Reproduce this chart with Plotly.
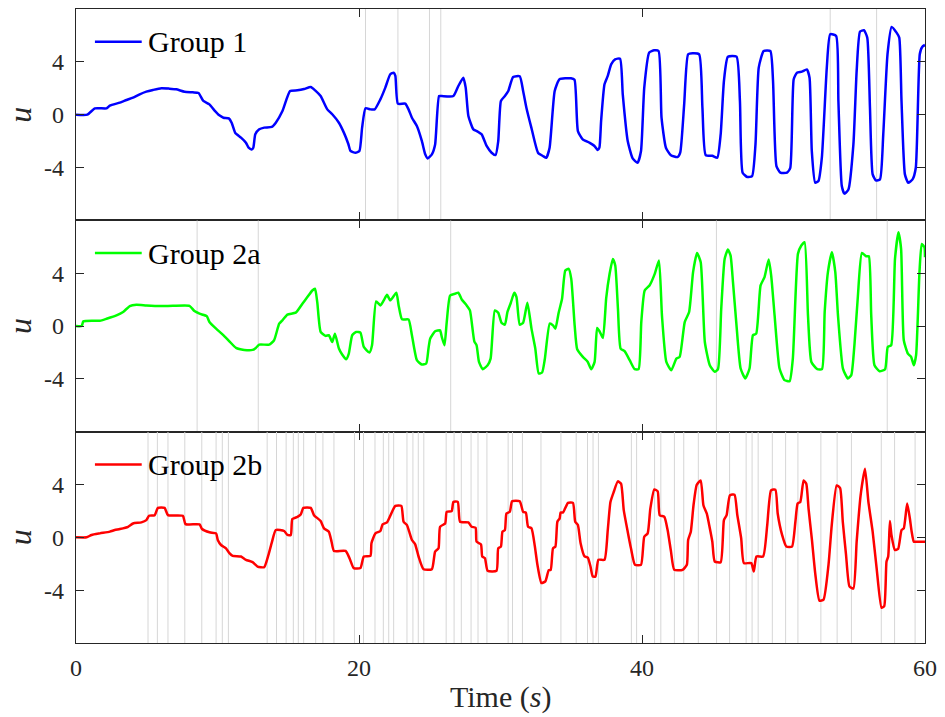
import plotly.graph_objects as go
from plotly.subplots import make_subplots

# ---- Group 1 response ----
t1 = [0, 0.8, 1.34, 2.16, 2.39, 3.1, 3.57, 4.03, 4.5, 4.97, 5.44, 6.03, 6.6, 7.08, 7.67, 8.26, 8.66,
      9.0, 9.43, 9.78, 10.13, 10.42, 10.8, 11.0, 11.26, 11.66, 12.01, 12.2, 12.41, 12.53, 12.67, 12.95,
      13.3, 13.84, 14.12, 14.59, 15.13, 15.65, 16.12, 16.59, 16.9, 17.29, 17.76, 18.11, 18.58, 18.93,
      19.24, 19.4, 19.75, 20.03, 20.22, 20.46, 20.81, 21.11, 21.51, 21.86, 22.21, 22.45, 22.57, 22.75,
      23.27, 23.5, 23.74, 24.09, 24.44, 24.68, 24.86, 25.15, 25.38, 25.66, 25.85, 26.67, 27.02, 27.37,
      27.54, 27.73, 28.08, 28.32, 28.67, 29.02, 29.37, 29.65, 29.84, 30.03, 30.31, 30.55, 30.89, 31.36,
      31.6, 31.83, 32.18, 32.65, 33.0, 33.24, 33.47, 33.83, 34.17, 34.98, 35.23, 35.47, 35.81, 36.28,
      36.64, 36.87, 36.99, 37.11, 37.35, 37.58, 37.82, 38.1, 38.45, 38.64, 38.99, 39.34, 39.69, 39.93,
      40.16, 40.51, 40.86, 41.17, 41.38, 41.69, 42.04, 42.51, 42.7, 42.98, 43.26, 43.57, 44.04, 44.27,
      44.5, 44.97, 45.32, 45.56, 45.79, 46.07, 46.68, 46.92, 47.11, 47.44, 47.78, 48.02, 48.25, 48.6,
      49.07, 49.26, 49.5, 49.78, 50.25, 50.48, 50.72, 50.95, 51.3, 51.65, 51.84, 52.0, 52.24, 52.47,
      52.71, 53.06, 53.3, 53.72, 53.88, 54.12, 54.31, 54.59, 54.94, 55.17, 55.41, 55.69, 55.92, 56.11,
      56.3, 56.53, 56.82, 57.05, 57.35, 57.64, 57.99, 58.18, 58.34, 58.58, 58.81, 59.12, 59.35, 59.63,
      59.8, 60.0]
u1 = [0, 0, 0.48, 0.48, 0.68, 0.91, 1.11, 1.29, 1.54, 1.74, 1.87, 2.0, 1.97, 1.92, 1.74, 1.69, 1.64,
      1.04, 0.78, 0.33, -0.05, -0.23, -0.28, -0.61, -1.39, -1.74, -2.12, -2.5, -2.63, -2.5, -1.49, -1.11,
      -0.98, -0.93, -0.61, 0.28, 1.79, 1.84, 1.94, 2.1, 1.84, 1.41, 0.4, 0.03, -0.61, -1.36,
      -2.2, -2.75, -2.88, -2.75, -0.98, 0.48, 0.4, 0.4, 1.16, 2.05, 3.06, 3.18, 2.93, 0.83,
      0.83, 0.4, -0.23, -0.86, -1.99, -3.0, -3.31, -3.0, -2.25, 1.41, 1.41, 1.41, 2.17, 2.8,
      2.05, -0.1, -1.11, -1.24, -1.49, -2.37, -2.88, -3.06, -2.0, 1.04, 1.41, 1.79, 2.85, 2.9,
      1.79, 0.53, -0.98, -2.88, -3.13, -3.26, -2.5, 1.79, 2.68, 2.75, 2.65, -1.24, -1.87, -2.12,
      -2.37, -2.68, -2.5, -0.48, 2.3, 2.93, 3.81, 4.19, 4.24, 1.54, -1.99, -3.31, -3.64, -2.75,
      2.05, 4.7, 4.87, 4.82, -0.23, -2.5, -3.08, -3.21, -2.88, 0.78, 4.57, 4.65, 4.57, 0.53,
      -3.06, -3.11, -3.26, -1.49, 2.55, 4.39, 4.39, 1.04, -4.39, -4.72, -4.65, -2.25, 3.56, 4.82,
      4.82, 2.55, -3.89, -4.39, -4.39, -4.02, 2.68, 3.18, 3.26, 3.43, 2.8, -2.75, -5.15, -5.03,
      -3.26, 3.56, 6.09, 5.96, 1.04, -5.4, -5.98, -5.66, -2.25, 3.31, 6.29, 6.39, 5.83, 0.53,
      -4.52, -4.97, -4.9, -1.49, 4.57, 6.64, 6.21, 5.83, 1.04, -4.52, -5.15, -4.9, -4.02, 4.57,
      5.13, 5.28]

# ---- Group 2a response ----
t2 = [0, 0.4, 0.52, 1.22, 1.69, 2.16, 2.86, 3.33, 3.8, 4.27, 4.97, 5.91, 6.85, 8.02, 8.37, 8.73, 9.24,
      9.43, 9.9, 10.37, 10.84, 11.31, 11.89, 12.48, 12.71, 12.95, 13.65, 14.0, 14.36, 14.59, 14.94,
      15.53, 16.0, 16.35, 16.7, 16.89, 17.05, 17.29, 17.64, 17.87, 18.11, 18.3, 18.58, 18.81, 19.09,
      19.28, 19.52, 19.8, 20.1, 20.34, 20.74, 20.92, 21.21, 21.51, 21.75, 21.98, 22.21, 22.64, 22.8,
      23.04, 23.5, 23.74, 24.09, 24.44, 24.75, 24.91, 25.03, 25.38, 25.73, 25.85, 26.04, 26.2, 26.44,
      26.79, 27.02, 27.26, 27.61, 27.84, 28.15, 28.31, 28.48, 28.74, 29.09, 29.3, 29.6, 29.84, 30.07,
      30.31, 30.49, 30.73, 30.97, 31.13, 31.36, 31.6, 31.9, 32.19, 32.46, 32.7, 32.94, 33.13, 33.48,
      33.71, 33.88, 34.11, 34.35, 34.58, 34.82, 35.0, 35.24, 35.42, 35.82, 36.17, 36.41, 36.65, 36.83,
      37.0, 37.24, 37.47, 37.71, 37.94, 38.11, 38.3, 38.49, 38.77, 39.13, 39.48, 39.76, 39.95, 40.19,
      40.53, 40.9, 41.2, 41.41, 41.72, 42.07, 42.43, 42.66, 43.02, 43.33, 43.61, 43.89, 44.15, 44.44,
      44.79, 45.14, 45.37, 45.6, 45.84, 46.07, 46.26, 46.43, 46.66, 46.97, 47.3, 47.6, 47.84, 48.07,
      48.38, 48.66, 48.95, 49.13, 49.37, 49.72, 50.07, 50.43, 50.66, 51.02, 51.26, 51.49, 51.73, 51.97,
      52.39, 52.72, 52.91, 53.14, 53.42, 53.66, 53.85, 54.2, 54.55, 54.79, 55.02, 55.26, 55.54, 55.84,
      56.03, 56.2, 56.43, 56.79, 57.18, 57.37, 57.61, 57.88, 58.12, 58.31, 58.5, 58.79, 59.02, 59.21,
      59.37, 59.61, 59.77, 59.96, 60.0]
u2 = [0, 0, 0.35, 0.4, 0.4, 0.55, 0.8, 1.06, 1.51, 1.61, 1.56, 1.51, 1.53, 1.53, 1.13, 0.93, 0.75,
      0.3, -0.2, -0.65, -1.16, -1.66, -1.81, -1.81, -1.66, -1.41, -1.41, -1.08, 0.18, 0.43, 0.86,
      1.01, 1.69, 2.19, 2.69, 2.82, 1.81, -0.45, -0.75, -0.7, -1.21, -0.58, -1.71, -2.16, -2.52,
      -2.09, -0.7, -0.45, -0.5, -1.58, -2.01, -1.46, 1.86, 1.56, 1.94, 2.36, 1.94, 2.52, 1.56,
      0.5, 0.5, -0.7, -2.59, -2.92, -2.84, -1.71, -0.96, -0.4, -0.33, -0.83, -1.46, 0.3, 2.31,
      2.44, 2.52, 2.01, 1.56, 1.18, -1.16, -1.46, -2.72, -3.27, -2.97, -2.47, 1.18, 1.01, 0.25,
      0.1, 1.06, 1.76, 2.52, 2.19, 0.1, 0.25, 1.76, -0.2, -1.71, -3.6, -3.52, -2.52, 0.18,
      0.05, -0.2, 1.01, 2.06, 4.2, 4.33, 3.57, 0.05, -1.76, -2.34, -2.72, -3.27, -2.72, -0.15,
      -0.4, -0.91, 2.11, 3.95, 5.08, 4.58, 1.31, -1.71, -1.91, -2.59, -3.27, -3.27, 0.3, 2.69,
      3.07, 3.95, 4.96, 0.8, -2.72, -3.35, -2.47, -2.34, 0.3, 1.06, 4.08, 5.53, 4.83, -1.21,
      -2.97, -3.47, -3.27, 1.31, 5.08, 5.79, 5.33, 3.32, 0.3, -3.22, -3.97, -3.22, -0.7, -0.58,
      3.07, 3.7, 5.03, 3.82, 0.8, -3.22, -4.1, -4.18, -2.47, 5.46, 6.09, 6.34, 0.8, -2.72,
      -3.27, -3.27, 1.06, 4.08, 5.59, 4.08, 0.8, -3.22, -3.97, -3.72, -1.33, 2.31, 5.53, 5.28,
      5.28, 0.8, -2.97, -3.42, -3.27, -1.58, -1.46, 5.08, 7.09, 5.84, -1.08, -2.09, -2.34, -2.97,
      -2.21, 4.08, 6.21, 5.96, 5.2]

# ---- Group 2b response ----
t3 = [0, 0.75, 1.1, 1.69, 2.39, 2.74, 3.1, 3.68, 4.03, 4.62, 4.97, 5.16, 5.56, 5.79, 6.26, 6.5, 7.55,
      7.74, 8.73, 8.91, 9.43, 9.9, 10.02, 10.25, 10.6, 10.84, 11.07, 11.66, 12.01, 12.48, 12.83, 13.3,
      13.6, 13.84, 14.12, 14.71, 14.94, 15.18, 15.29, 15.65, 15.88, 16.07, 16.59, 16.82, 17.29, 17.53,
      17.87, 18.06, 18.23, 19.05, 19.33, 19.63, 20.1, 20.34, 20.81, 20.88, 21.16, 21.51, 21.67, 21.98,
      22.28, 22.57, 22.99, 23.15, 23.39, 23.55, 23.74, 23.97, 24.21, 24.56, 25.15, 25.38, 25.62, 25.73,
      26.09, 26.2, 26.55, 26.67, 26.98, 27.14, 27.73, 27.96, 28.24, 28.31, 28.62, 28.71, 28.9, 29.09,
      29.72, 29.84, 30.03, 30.14, 30.31, 30.42, 30.66, 30.82, 31.36, 31.6, 31.79, 31.95, 32.19, 32.42,
      32.61, 32.89, 33.17, 33.41, 33.55, 33.71, 33.88, 34.02, 34.18, 34.25, 34.42, 34.77, 35.12, 35.28,
      35.47, 35.66, 35.94, 36.17, 36.36, 36.52, 36.71, 36.92, 37.35, 37.58, 37.77, 38.0, 38.29, 38.52,
      38.71, 38.99, 39.22, 39.5, 39.93, 40.16, 40.4, 40.59, 40.87, 41.11, 41.25, 41.58, 41.81, 42.05,
      42.28, 42.87, 43.17, 43.26, 43.45, 43.64, 43.87, 44.15, 44.34, 44.58, 44.74, 44.97, 45.14, 45.56,
      45.79, 45.98, 46.21, 46.54, 46.73, 47.01, 47.2, 47.72, 47.9, 48.09, 48.56, 48.85, 49.12, 49.43,
      49.59, 49.9, 50.2, 50.6, 50.84, 51.0, 51.19, 51.42, 51.61, 51.77, 52.01, 52.24, 52.54, 52.83,
      53.18, 53.41, 53.76, 54.0, 54.19, 54.42, 54.66, 54.94, 55.17, 55.45, 55.76, 56.0, 56.3, 56.58,
      56.93, 57.12, 57.28, 57.4, 57.52, 57.63, 57.87, 58.1, 58.34, 58.5, 58.74, 58.93, 59.05, 59.21,
      59.4, 60.0]
u3 = [0, 0, 0.18, 0.3, 0.43, 0.55, 0.63, 0.8, 1.05, 1.13, 1.3, 1.63, 1.68, 2.23, 2.23, 1.68, 1.63,
      1.0, 0.98, 0.63, 0.38, 0.3, -0.2, -0.58, -0.83, -1.2, -1.4, -1.45, -1.7, -1.88, -2.21, -2.26,
      -1.33, -0.38, 0.55, 0.48, 0.18, 0.18, 1.38, 1.55, 1.73, 2.23, 2.23, 1.68, 1.23, 0.68,
      0.43, -0.33, -1.03, -1.03, -1.58, -2.33, -2.33, -1.45, -1.4, -0.45, 0.3, 0.48, 0.98, 1.13,
      1.8, 2.38, 2.38, 1.18, 0.93, 0.43, -0.2, -0.53, -1.45, -2.41, -2.41, -1.08, -0.83, 0.8,
      1.05, 1.93, 1.98, 2.68, 2.68, 1.18, 1.13, 0.8, 0.73, -0.33, -0.53, -1.45, -1.58, -2.53,
      -2.53, -0.83, -0.7, 0.43, 0.55, 1.8, 1.93, 2.73, 2.73, 1.93, 1.88, 0.8, 0.68, -0.63,
      -2.08, -3.46, -3.33, -2.48, -2.46, -0.83, -0.7, 1.18, 1.43, 1.88, 1.88, 2.61, 2.61, 1.18,
      0.93, -0.45, -1.45, -1.53, -2.21, -2.96, -2.96, -1.7, -1.7, 0.55, 2.68, 3.43, 4.24, 4.06,
      2.06, 0.43, -0.83, -2.08, -2.08, 0.05, 0.3, 2.18, 3.63, 3.48, 1.68, 1.55, 0.55, -1.08,
      -2.46, -2.46, -2.08, -0.2, 0.43, 2.43, 3.98, 4.31, 2.43, 1.8, 0.98, -0.33, -1.83, -1.88,
      1.3, 1.68, 3.18, 3.23, 1.73, -0.08, -1.95, -1.95, -2.58, -1.45, -1.45, 0.93, 3.56, 3.61,
      1.8, 0.18, -0.7, -0.7, 1.18, 2.56, 2.68, 4.31, 4.06, 2.18, -0.2, -2.71, -4.79, -4.71,
      -2.08, 0.93, 3.93, 3.73, 1.18, -1.33, -3.71, -3.88, -0.33, 3.18, 5.19, 2.68, 0.43, -2.33,
      -5.34, -5.21, -1.83, -1.45, 1.23, 0.18, -0.95, -0.88, 0.55, 0.68, 2.56, 1.43, 0.48, -0.33,
      -0.33, -0.33]

# ---- Event (update) times for each group ----
ev1 = [20.46, 22.75, 24.98, 25.78, 53.3, 56.58]
ev2a = [8.56, 12.88, 26.48, 45.26, 57.33]
ev2b = [5.09, 5.75, 6.50, 7.69, 8.89, 9.90, 10.34, 10.77, 13.51, 14.17, 14.85, 15.36, 15.71, 16.09,
        16.94, 17.45, 18.23, 19.68, 20.32, 21.13, 21.72, 22.10, 22.45, 23.39, 23.81, 24.19, 24.58,
        26.16, 26.72, 27.23, 27.92, 28.41, 29.04, 30.54, 30.85, 31.55, 32.86, 34.27, 35.35, 36.15,
        36.54, 36.92, 39.25, 39.62, 40.89, 41.33, 42.29, 42.95, 43.98, 45.27, 46.19, 47.36, 47.78,
        48.21, 49.21, 50.15, 51.02, 52.64, 53.79, 54.80, 56.91, 57.85, 59.30]

names = ["Group 1", "Group 2a", "Group 2b"]
colors = ["#0000ff", "#00ff00", "#ff0000"]
series = [(t1, u1), (t2, u2), (t3, u3)]
events = [ev1, ev2a, ev2b]

X_RANGE = [0, 60]
Y_RANGE = [-8, 8]
y_ticks = [-4, 0, 4]
y_ticktext = ["-4", "0", "4"]
x_ticks = [0, 20, 40, 60]

FONT = "Liberation Serif"
AX_COLOR = "#262626"
EVENT_COLOR = "#d6d6d6"

fig = make_subplots(rows=3, cols=1, shared_xaxes=True, vertical_spacing=0)

for i, ((t, u), ev, name, col) in enumerate(zip(series, events, names, colors), start=1):
    # event markers: full-height vertical lines, drawn first so they sit under the curve
    ex, ey = [], []
    for te in ev:
        ex += [te, te, None]
        ey += [Y_RANGE[0], Y_RANGE[1], None]
    fig.add_trace(go.Scatter(x=ex, y=ey, mode="lines", hoverinfo="skip",
                             line=dict(color=EVENT_COLOR, width=1), showlegend=False),
                  row=i, col=1)
    fig.add_trace(go.Scatter(x=t, y=u, mode="lines", name=name,
                             line=dict(color=col, width=2.5, shape="spline", smoothing=0.5),
                             showlegend=False),
                  row=i, col=1)

    xa = "x" if i == 1 else f"x{i}"
    ya = "y" if i == 1 else f"y{i}"
    # legend-style key: short line sample followed by the series name
    fig.add_shape(type="line", xref=f"{xa} domain", yref=f"{ya} domain",
                  x0=0.0223, x1=0.0774, y0=0.845, y1=0.845,
                  line=dict(color=col, width=2.5))
    fig.add_annotation(xref=f"{xa} domain", yref=f"{ya} domain", x=0.082, y=0.845,
                       text=name, showarrow=False, xanchor="left", yanchor="middle",
                       font=dict(family=FONT, size=30, color="black"))
    # y-axis label
    fig.add_annotation(xref="paper", yref=f"{ya} domain", x=-0.066, y=0.5,
                       text="<i>u</i>", showarrow=False, textangle=-90,
                       xanchor="center", yanchor="middle",
                       font=dict(family=FONT, size=32, color=AX_COLOR))

common_axis = dict(showline=True, linecolor=AX_COLOR, linewidth=1.3, mirror="ticks",
                   ticks="inside", tickcolor=AX_COLOR, tickwidth=1.3, ticklen=8,
                   showgrid=False, zeroline=False,
                   tickfont=dict(family=FONT, size=24, color=AX_COLOR))

fig.update_xaxes(range=X_RANGE, tickvals=x_ticks, **common_axis)
fig.update_xaxes(showticklabels=True, ticklabelstandoff=3, row=3, col=1)
fig.update_yaxes(range=Y_RANGE, tickvals=y_ticks, ticktext=y_ticktext,
                 ticklabelstandoff=6, **common_axis)

fig.add_annotation(xref="paper", yref="paper", x=0.5, y=-0.085,
                   text="Time (<i>s</i>)", showarrow=False,
                   xanchor="center", yanchor="middle",
                   font=dict(family=FONT, size=30, color=AX_COLOR))

fig.update_layout(width=945, height=717, margin=dict(l=76, r=17, t=8, b=74),
                  paper_bgcolor="white", plot_bgcolor="white", showlegend=False)

fig.write_html("out.html")
